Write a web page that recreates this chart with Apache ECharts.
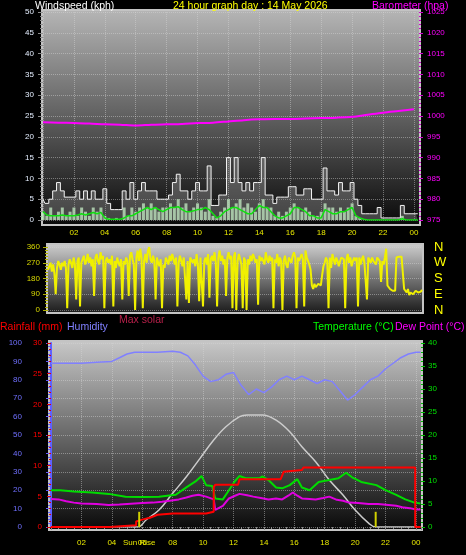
<!DOCTYPE html>
<html><head><meta charset="utf-8">
<script src="https://cdn.jsdelivr.net/npm/echarts@6/dist/echarts.min.js"></script>
<style>html,body{margin:0;padding:0;background:#000;}#c{width:466px;height:555px;}</style>
</head><body><div id="c"></div>
<script>
// ---------- DATA ----------
const titleText = '24 hour graph day : 14 May 2026';
const hourTicks = ['00','02','04','06','08','10','12','14','16','18','20','22','00'];

// wind (15-minute samples from 00:00)
const windStep = 0.25;
const gust = [5,4,5,7, 9,7,5.5,5.5, 5.5,7,5,7, 5,7,5,5, 7.5,4,2.5,2.5, 2.5,7,5,9, 5,7,9,7, 7,7,5,5,
  5,6,9,11, 7,7,5,7, 9,7,7,13, 3.5,3.5,6,6, 15,9,15,9, 7,9,7,9, 9,15,6,6, 4,5.5,5.5,5.5,
  8,8,6,6, 7.5,7.5,5,5, 5,12.5,7,7, 6,9,7,7, 9,5,3.5,1.5, 1.5,1.5,1.5,3, 0.5,0.5,0.5,0.5, 0.5,3.5,1.5,1.5, 1.5,1.5];
const windSpeed = [2,1,3,1, 2,3,1,2, 3,1,3,2, 1,3,2,3, 1,0.5,0,0.5, 0,3,1,3, 2,3,4,3, 4,3,2,3,
  3,4,3,5, 3,4,2,3, 4,3,2,5, 1,0.5,2,3, 5,3,4,5, 3,4,3,2, 4,5,3,3, 1,2,1,2,
  3,4,3,2, 3,2,1,1, 2,4,3,3, 2,3,2,3, 4,1,0.5,0, 0,0,0,0, 0,0,0,0, 0,1,0,0, 0,0];
const windAvg = [2,1.2,1,1, 1,1.2,1,1, 1,1.2,1.5,1.2, 1.5,1.8,1.5,1.8, 0.5,0.2,0.2,0.2, 0.2,0.5,1,1, 1.5,2,2.5,3, 2.5,3,2.5,2,
  2.5,3,3,3.2, 2.5,2,2,2.2, 2.5,2.5,3,2.5, 1.5,0.5,1,2, 2.5,3,3,2.5, 2,1.5,1.5,2.5, 3.5,3,3,2, 1,0.5,0.5,1,
  1.5,3,3,2.5, 2,1,1,0.5, 0.5,2.5,2,1.5, 1.5,2,2,2.5, 3,1,0.5,0.2, 0,0,0,0, 0,0,0,0, 0,0.3,0,0, 0,0];

// barometer (hourly)
const baroStep = 1;
const barometer = [998.5,998.4,998.3,998.2,998.0,997.9,997.7,997.9,998.0,998.1,998.3,998.4,998.7,
  999.0,999.2,999.3,999.3,999.4,999.5,999.6,999.8,1000.3,1000.8,1001.2,1001.6];

// wind direction (5-minute samples)
const dirStep = 1/12;
const windDir = [
  230,250,270,220,260,210, 90,240,280,260,230,270,
  250,280,240,10,260,290, 270,240,300,260,60,280,
  300,20,270,290,310,260, 280,320,270,300,250,290,
  80,300,320,280,260,330, 290,310,10,280,300,270,
  290,260,310,20,280,240, 300,270,250,290,60,280,
  260,300,280,80,310,330, 290,260,0,300,340,280,
  350,300,10,280,320,270, 340,360,290,270,310,280,
  60,300,270,250,290,10, 260,240,300,280,260,310,
  280,320,290,260,300,20, 270,310,280,250,300,290,
  60,280,40,300,310,270, 290,250,320,260,50,300,
  290,20,280,300,260,320, 70,290,310,280,330,270,
  20,300,340,280,310,260, 290,80,300,330,290,310,
  10,300,330,0,280,320, 290,260,10,300,280,0,
  290,260,310,280,320,300, 270,290,30,310,280,300,
  300,260,330,290,270,310, 280,300,10,290,270,320,
  250,300,280,0,280,310, 260,240,300,290,270,310,
  330,300,10,300,280,270, 320,290,20,340,300,280,
  260,230,140,120,150,130, 120,150,160,140,200,250,
  270,300,280,10,300,240, 320,290,260,300,280,250,
  280,300,310,290,10,290, 320,270,300,250,280,300,
  280,300,20,300,260,290, 310,270,280,60,300,290,
  270,300,280,290,260,300, 310,280,160,280,260,300,
  350,140,130,120,115,110, 120,110,300,310,305,300,
  305,310,120,110,100,120, 85,100,110,90,95,110,
  120,100,110,105,115];

// bottom panel [hour, value]
const humidity = [[0,89],[1,89],[2,89],[3,89.5],[4,90],[4.5,92],[5,94],[5.5,95],[6,95],[7,95],[8,95.5],[8.5,95],[9,93],[9.5,88],
  [10,82],[10.5,79],[11,80],[11.5,83],[12,84],[12.5,77],[13,72],[13.5,75],[14,73],[14.5,76],[15,80],[15.5,82],[16,80],[16.5,82],
  [17,80],[17.5,78],[18,80],[18.5,79],[19,74],[19.5,69],[20,72],[20.5,76],[21,80],[21.5,82],[22,86],[22.5,89],[23,92],[23.5,94],[24,95],[24.3,95]];
const temperature = [[0,8.0],[0.6,8.0],[1.5,7.7],[2.7,7.5],[3.8,7.2],[4.9,6.6],[6,6.5],[7.1,6.6],[8.2,7.0],[8.9,8.6],[9.5,9.9],[9.9,11.1],
  [10.2,9.1],[10.6,8.9],[10.8,6.2],[11.3,6.0],[11.7,8.0],[12.1,10.0],[12.4,11.1],[12.8,10.6],[13.7,10.6],[13.9,11.0],[14.3,10.2],[14.8,8.6],
  [15.2,8.4],[15.7,9.1],[16.2,10.4],[16.5,8.6],[17.0,8.0],[17.6,9.8],[18.3,10.2],[18.9,10.6],[19.4,11.8],[19.8,10.8],[20.4,9.8],[21.4,9.1],
  [22,8.0],[22.7,7.0],[23.3,6.0],[23.9,5.3],[24.3,5.1]];
const dewPoint = [[0,6.1],[0.5,6.0],[1,5.6],[1.5,5.3],[2,5.1],[3,5.0],[3.8,4.8],[4.5,4.9],[5,5.0],[6,5.2],[6.7,5.3],[7.3,5.5],[7.8,5.7],
  [8.4,6.0],[8.9,6.4],[9.3,6.8],[9.7,7.0],[10.2,6.6],[10.7,6.0],[10.8,3.7],[11.3,4.6],[11.7,6.2],[12.1,6.8],[12.4,7.2],[12.9,6.9],[13.3,6.6],
  [13.8,6.3],[14.3,6.0],[14.8,6.2],[15.2,6.0],[15.6,6.8],[15.9,7.5],[16.2,6.8],[16.5,6.2],[17,6.1],[17.4,6.0],[17.9,6.3],[18.3,6.6],[18.8,5.9],
  [19.2,5.7],[19.6,5.3],[20.2,5.2],[20.9,5.0],[21.5,5.0],[22.2,4.8],[22.7,4.6],[23.1,4.3],[23.6,4.1],[24,3.8],[24.3,3.8]];
const rainfall = [[0,0],[3.85,0],[3.85,0.3],[5.6,0.3],[5.6,0.9],[6,1.2],[6.5,1.5],[7,2.0],[8,2.2],[10.2,2.2],[10.2,2.5],[10.7,2.5],
  [10.7,6.5],[10.8,6.9],[12.3,6.9],[12.4,7.8],[15.1,7.8],[15.3,9.0],[16.5,9.3],[16.6,9.7],[23.95,9.7],[23.95,0],[24.3,0]];
const maxSolar = [[0,0],[5.7,0],[6.25,38],[7.1,92],[8.0,183],[8.9,273],[9.8,373],[10.7,473],[11.5,545],[12.4,600],[12.9,609],[13.9,609],
  [14.8,581],[15.7,518],[16.5,436],[17.4,355],[18.3,255],[19.2,174],[20.0,92],[20.9,20],[21.35,0],[24.3,0]];
const sunRise = 5.8, sunSet = 21.35, sunMarkTop = 3.3;

// ---------- CHART ----------
const pairs = (step, vals) => vals.map((v, i) => [i * step, v]);
const FONT = 'Liberation Sans';
const XMAX = 24.33;
const grad = (a, b) => ({type:'linear', x:0, y:0, x2:0, y2:1, colorStops:[{offset:0,color:a},{offset:1,color:b}]});
const dotted = {show:true, lineStyle:{color:'rgba(215,215,215,0.45)', type:'dotted', width:1}};
const hourFmt = v => { const r = Math.round(v); if (Math.abs(v - r) > 1e-6 || r === 0 || r % 2) return ''; return hourTicks[r / 2]; };
const txt = (x, y, s, c) => ({type:'text', x, y, z:50, style:{text:s, fill:c, font:'10.5px "' + FONT + '"', textVerticalAlign:'middle'}});

const chart = echarts.init(document.getElementById('c'), null, {renderer:'canvas'});
const option = {
  backgroundColor:'#000',
  animation:false,
  textStyle:{fontFamily:FONT},
  graphic:{elements:[
    {type:'rect', z:-10, shape:{x:42, y:10, width:378, height:215}, style:{fill:grad('#b6b6b6','#080808'), stroke:'#c4c4c4', lineWidth:2}},
    {type:'rect', z:-10, shape:{x:47, y:244, width:376, height:69}, style:{fill:grad('#d0d0d0','#181818'), stroke:'#c4c4c4', lineWidth:2}},
    {type:'rect', z:-10, shape:{x:49, y:341, width:373, height:189}, style:{fill:grad('#c8c8c8','#080808'), stroke:'#c4c4c4', lineWidth:2}},
    txt(35, 6, 'Windspeed (kph)', '#ffffff'),
    txt(173, 6, titleText, '#ffff00'),
    txt(372, 6, 'Barometer (hpa)', '#ff00ff'),
    txt(0, 327, 'Rainfall (mm)', '#ff0000'),
    txt(67, 327, 'Humidity', '#8080ff'),
    txt(119, 320, 'Max solar', '#b8204a'),
    txt(313, 327, 'Temperature (°C)', '#00ff00'),
    txt(395, 327, 'Dew Point (°C)', '#ff00ff')
  ]},
  grid:[
    {left:43, top:12, width:376, height:208},
    {left:48, top:247, width:374, height:63},
    {left:51, top:343, width:370, height:184}
  ],
  xAxis:[
    {gridIndex:0, type:'value', min:0, max:XMAX, interval:2, axisLine:{show:false}, axisTick:{show:false},
      axisLabel:{color:'#e8e800', fontSize:8, margin:9, formatter:hourFmt, showMinLabel:false, showMaxLabel:false}, splitLine:dotted},
    {gridIndex:1, type:'value', min:0, max:XMAX, interval:2, show:false},
    {gridIndex:2, type:'value', min:0, max:XMAX, interval:2, axisLine:{show:false},
      axisTick:{show:true, length:3, lineStyle:{color:'#8c8c8c'}}, minorTick:{show:true, splitNumber:4, length:2, lineStyle:{color:'#8c8c8c'}},
      axisLabel:{color:'#e8e800', fontSize:8, margin:12, formatter:hourFmt, showMinLabel:false, showMaxLabel:false}, splitLine:dotted}
  ],
  yAxis:[
    {gridIndex:0, type:'value', min:0, max:50, interval:5, axisLine:{show:false},
      axisTick:{show:true, length:5, lineStyle:{color:'#8c8c8c'}}, minorTick:{show:true, splitNumber:5, length:3, lineStyle:{color:'#8c8c8c'}},
      axisLabel:{color:'#e4eeff', fontSize:8, margin:9}, splitLine:dotted},
    {gridIndex:0, type:'value', position:'right', min:975, max:1025, interval:5, axisLine:{show:false},
      axisTick:{show:true, length:4, lineStyle:{color:'#d000d0'}}, minorTick:{show:true, splitNumber:5, length:2, lineStyle:{color:'#d000d0'}},
      axisLabel:{color:'#ff00ff', fontSize:8, margin:8, formatter:v => String(v)}, splitLine:{show:false}},
    {gridIndex:1, type:'value', min:0, max:360, interval:90, axisLine:{show:false},
      axisTick:{show:true, length:5, lineStyle:{color:'#b0b000'}}, minorTick:{show:true, splitNumber:5, length:3, lineStyle:{color:'#b0b000'}},
      axisLabel:{color:'#d8d800', fontSize:8, margin:8}, splitLine:dotted},
    {gridIndex:1, type:'value', position:'right', min:0, max:360, interval:90, axisLine:{show:false}, axisTick:{show:false},
      axisLabel:{color:'#ffff00', fontSize:13, margin:12, formatter:v => ({0:'N',90:'E',180:'S',270:'W',360:'N'})[v]}, splitLine:{show:false}},
    {gridIndex:2, type:'value', position:'left', offset:21, min:0, max:100, interval:10,
      axisLine:{show:true, lineStyle:{color:'#6060ff', width:2}},
      axisTick:{show:true, length:5, lineStyle:{color:'#6060ff'}}, minorTick:{show:true, splitNumber:5, length:3, lineStyle:{color:'#6060ff'}},
      axisLabel:{color:'#7070ff', fontSize:8, margin:8}, splitLine:dotted},
    {gridIndex:2, type:'value', position:'left', offset:0, min:0, max:30, interval:5, axisLine:{show:false},
      axisTick:{show:true, length:4, lineStyle:{color:'#e00000'}}, minorTick:{show:true, splitNumber:5, length:2, lineStyle:{color:'#e00000'}},
      axisLabel:{color:'#ff0000', fontSize:8, margin:9}, splitLine:{show:false}},
    {gridIndex:2, type:'value', position:'right', min:0, max:40, interval:5, axisLine:{show:false},
      axisTick:{show:true, length:4, lineStyle:{color:'#00c000'}}, minorTick:{show:true, splitNumber:5, length:2, lineStyle:{color:'#00c000'}},
      axisLabel:{color:'#00e000', fontSize:8, margin:7}, splitLine:{show:false}},
    {gridIndex:2, type:'value', min:0, max:1000, show:false}
  ],
  series:[
    {name:'gust', type:'line', xAxisIndex:0, yAxisIndex:0, data:pairs(windStep, gust), step:'middle', showSymbol:false,
      lineStyle:{color:'#f4f4f4', width:1}, areaStyle:{color:'rgba(170,170,170,0.5)'}},
    {name:'speed', type:'bar', xAxisIndex:0, yAxisIndex:0, data:pairs(windStep, windSpeed), barWidth:3, itemStyle:{color:'rgba(190,245,190,0.85)'}},
    {name:'avg', type:'line', xAxisIndex:0, yAxisIndex:0, data:pairs(windStep, windAvg), showSymbol:false, lineStyle:{color:'#10e010', width:1.5}},
    {name:'baro', type:'line', xAxisIndex:0, yAxisIndex:1, data:pairs(baroStep, barometer), showSymbol:false, smooth:0.3, lineStyle:{color:'#ff00ff', width:2}},
    {name:'dir', type:'line', xAxisIndex:1, yAxisIndex:2, data:pairs(dirStep, windDir), showSymbol:false, lineStyle:{color:'#f0f000', width:2}},
    {name:'solar', type:'line', xAxisIndex:2, yAxisIndex:7, data:maxSolar, showSymbol:false, smooth:0.4, lineStyle:{color:'#cccccc', width:1.5}},
    {name:'humidity', type:'line', xAxisIndex:2, yAxisIndex:4, data:humidity, showSymbol:false, lineStyle:{color:'#8080ff', width:1.5}},
    {name:'temp', type:'line', xAxisIndex:2, yAxisIndex:6, data:temperature, showSymbol:false, lineStyle:{color:'#00dd00', width:2}},
    {name:'dew', type:'line', xAxisIndex:2, yAxisIndex:6, data:dewPoint, showSymbol:false, lineStyle:{color:'#e000e0', width:2}},
    {name:'rain', type:'line', xAxisIndex:2, yAxisIndex:5, data:rainfall, showSymbol:false, lineStyle:{color:'#ff0000', width:2}},
    {name:'sunrise', type:'line', xAxisIndex:2, yAxisIndex:6, data:[[sunRise,0],[sunRise,sunMarkTop]], showSymbol:false, lineStyle:{color:'#d0d000', width:2}},
    {name:'sunset', type:'line', xAxisIndex:2, yAxisIndex:6, data:[[sunSet,0],[sunSet,sunMarkTop]], showSymbol:false, lineStyle:{color:'#d0d000', width:2}}
  ]
};
chart.setOption(option);
const srx = chart.convertToPixel({xAxisIndex:2}, sunRise);
const axisY = chart.convertToPixel({yAxisIndex:6}, 0);
chart.setOption({graphic:{elements:[
  {id:'sunriseLabel', type:'text', x:srx, y:axisY + 16, z:50,
    style:{text:'Sun Rise', fill:'#e8e800', font:'8px "' + FONT + '"', textAlign:'center', textVerticalAlign:'middle'}}
]}});
</script></body></html>
